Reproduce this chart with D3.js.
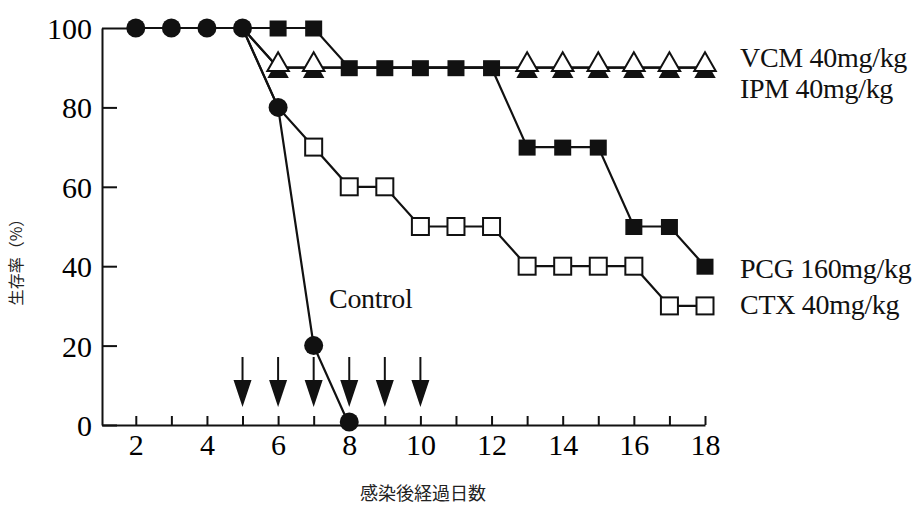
<!DOCTYPE html>
<html>
<head>
<meta charset="utf-8">
<script src="https://cdn.jsdelivr.net/npm/d3@7"></script>
<style>
  body { margin: 0; background: #fff; }
  svg { display: block; }
</style>
</head>
<body>
<svg id="chart" width="922" height="506"></svg>
<script>
// days after infection
var days = [2, 3, 4, 5, 6, 7, 8, 9, 10, 11, 12, 13, 14, 15, 16, 17, 18];
var xTickLabels = [2, 4, 6, 8, 10, 12, 14, 16, 18];
var yTickLabels = [0, 20, 40, 60, 80, 100];

// survival (%) per series, each value matches the day of same index
var controlDays = [2, 3, 4, 5, 6, 7, 8];
var controlVals = [100, 100, 100, 100, 80, 20, 0];

var drugDays = [5, 6, 7, 8, 9, 10, 11, 12, 13, 14, 15, 16, 17, 18];
var pcgVals = [100, 100, 100, 90, 90, 90, 90, 90, 70, 70, 70, 50, 50, 40];
var vcmVals = [100, 90, 90, 90, 90, 90, 90, 90, 90, 90, 90, 90, 90, 90];
var ipmVals = [100, 90, 90, 90, 90, 90, 90, 90, 90, 90, 90, 90, 90, 90];
var ctxVals = [100, 80, 70, 60, 60, 50, 50, 50, 40, 40, 40, 40, 30, 30];

// dosing days (arrows)
var arrowDays = [5, 6, 7, 8, 9, 10];

var seriesNames = ["VCM 40mg/kg", "IPM 40mg/kg", "PCG 160mg/kg", "CTX 40mg/kg"];

var serif = "'Liberation Serif', 'Times New Roman', serif";
var cjk = "'Noto Sans CJK JP', 'Noto Sans', sans-serif";

var svg = d3.select("#chart");

var x = d3.scaleLinear().domain([1.05, 18]).range([102, 705]);
var y = d3.scaleLinear().domain([0, 100]).range([425, 28]);

// axes
var yAxis = svg.append("g")
    .attr("transform", "translate(" + x(1.05) + ",0)")
    .call(d3.axisLeft(y).tickValues(yTickLabels).tickSizeInner(-15).tickSizeOuter(0).tickPadding(10));
yAxis.selectAll("text")
    .style("font-family", serif)
    .style("font-size", "30px")
    .attr("dy", "0.35em");
// the top tick runs on to the first point
yAxis.selectAll(".tick")
    .filter(function(d) { return d == 100; })
    .select("line")
    .attr("x2", x(2) - x(1.05));

var xAxis = svg.append("g")
    .attr("transform", "translate(0," + y(0) + ")")
    .call(d3.axisBottom(x).tickValues(days).tickSizeInner(-9).tickSizeOuter(0).tickPadding(9)
      .tickFormat(function(d) { return xTickLabels.indexOf(d) >= 0 ? d : ""; }));
xAxis.selectAll("text")
    .style("font-family", serif)
    .style("font-size", "30px");

svg.selectAll(".domain, .tick line")
    .attr("stroke", "#111")
    .attr("stroke-width", 2);

var line = d3.line()
    .x(function(d) { return x(d.day); })
    .y(function(d) { return y(d.val); });

function pts(ds, vs) {
  return ds.map(function(d, i) { return { day: d, val: vs[i] }; });
}

var ctx = pts(drugDays, ctxVals);
var ipm = pts(drugDays, ipmVals);
var vcm = pts(drugDays, vcmVals);
var pcg = pts(drugDays, pcgVals);
var control = pts(controlDays, controlVals);

[ctx, ipm, vcm, pcg, control].forEach(function(s) {
  svg.append("path")
      .datum(s)
      .attr("d", line)
      .attr("fill", "none")
      .attr("stroke", "#111")
      .attr("stroke-width", 2.2);
});

// markers are skipped where another series' marker sits on the same spot
function hidden(p, others) {
  return others.some(function(o) {
    return o.some(function(q) { return q.day == p.day && q.val == p.val; });
  });
}

var sq = 17;
svg.selectAll(".ctx")
    .data(ctx.filter(function(p) { return !hidden(p, [control]); }))
    .enter().append("rect")
    .attr("x", function(d) { return x(d.day) - sq / 2; })
    .attr("y", function(d) { return y(d.val) - sq / 2; })
    .attr("width", sq).attr("height", sq)
    .attr("fill", "#fff").attr("stroke", "#111").attr("stroke-width", 2);

var tri = d3.symbol().type(d3.symbolTriangle).size(200);

svg.selectAll(".ipm")
    .data(ipm.filter(function(p) { return !hidden(p, [control, pcg]); }))
    .enter().append("path")
    .attr("d", tri)
    .attr("transform", function(d) { return "translate(" + x(d.day) + "," + (y(d.val) + 4) + ")"; })
    .attr("fill", "#111");

svg.selectAll(".vcm")
    .data(vcm.filter(function(p) { return !hidden(p, [control, pcg]); }))
    .enter().append("path")
    .attr("d", tri)
    .attr("transform", function(d) { return "translate(" + x(d.day) + "," + (y(d.val) - 3) + ")"; })
    .attr("fill", "#fff").attr("stroke", "#111").attr("stroke-width", 2);

svg.selectAll(".pcg")
    .data(pcg.filter(function(p) { return !hidden(p, [control]); }))
    .enter().append("rect")
    .attr("x", function(d) { return x(d.day) - sq / 2; })
    .attr("y", function(d) { return y(d.val) - sq / 2 + 1; })
    .attr("width", sq).attr("height", sq - 1)
    .attr("fill", "#111");

svg.selectAll(".control")
    .data(control)
    .enter().append("circle")
    .attr("cx", function(d) { return x(d.day); })
    .attr("cy", function(d) { return y(d.val) + (d.val == 0 ? -3 : 0); })
    .attr("r", 9.5)
    .attr("fill", "#111");

// dosing arrows
var arrows = svg.selectAll(".arrow")
    .data(arrowDays)
    .enter().append("g")
    .attr("transform", function(d) { return "translate(" + x(d) + "," + (y(0) - 18) + ")"; });
arrows.append("line")
    .attr("x1", 0).attr("x2", 0)
    .attr("y1", -50).attr("y2", -20)
    .attr("stroke", "#111").attr("stroke-width", 2);
arrows.append("path")
    .attr("d", "M-9,-27L9,-27L0,0Z")
    .attr("fill", "#111");

// series labels
var labelY = [67, 98, 278, 314];
svg.selectAll(".lbl")
    .data(seriesNames)
    .enter().append("text")
    .attr("x", 740)
    .attr("y", function(d, i) { return labelY[i]; })
    .style("font-family", serif)
    .style("font-size", "28px")
    .style("letter-spacing", "-0.3px")
    .attr("fill", "#111")
    .text(function(d) { return d; });

svg.append("text")
    .attr("x", 329)
    .attr("y", 308)
    .style("font-family", serif)
    .style("font-size", "28px")
    .style("letter-spacing", "-0.3px")
    .attr("fill", "#111")
    .text("Control");

// axis titles
svg.append("text")
    .attr("transform", "translate(22,258) rotate(-90)")
    .style("text-anchor", "middle")
    .style("font-family", cjk)
    .style("font-size", "16px")
    .attr("fill", "#222")
    .text("生存率（%）");

svg.append("text")
    .attr("x", 423)
    .attr("y", 500)
    .style("text-anchor", "middle")
    .style("font-family", cjk)
    .style("font-size", "18px")
    .attr("fill", "#222")
    .text("感染後経過日数");
</script>
</body>
</html>
